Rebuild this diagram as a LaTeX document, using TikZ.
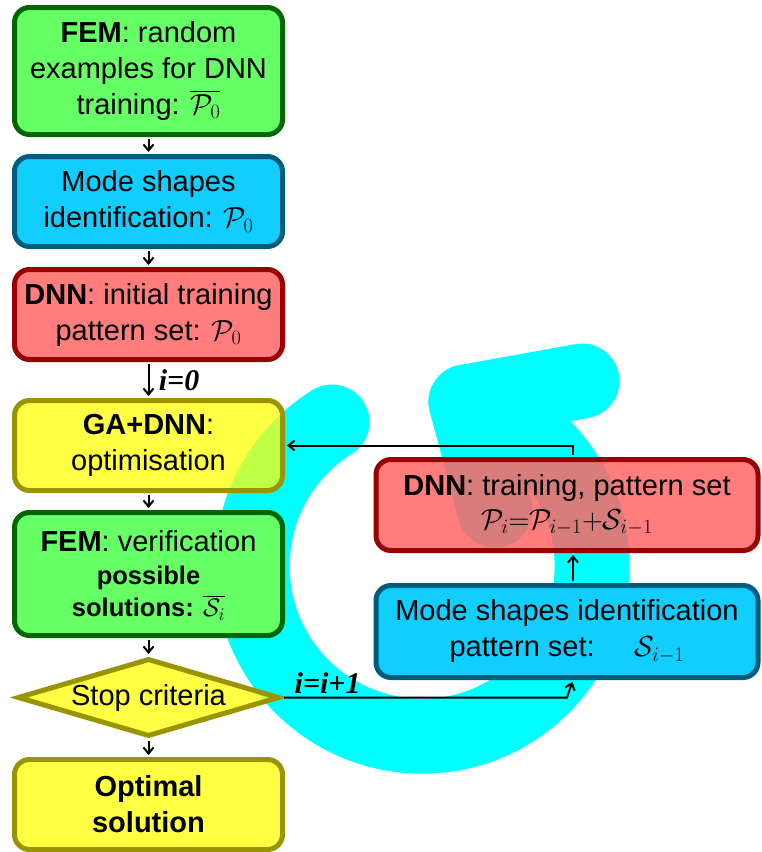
\RequirePackage{fix-cm}
\documentclass[tikz,border=0pt]{standalone}
\usepackage{fontspec}
\setmainfont{Liberation Sans}
\newfontfamily\labfont{Liberation Serif}
\usetikzlibrary{shapes.geometric,arrows.meta}

\definecolor{femgreen}{RGB}{102,255,102}
\definecolor{femline}{RGB}{0,102,0}
\definecolor{modeblue}{RGB}{17,206,255}
\definecolor{modeline}{RGB}{0,92,125}
\definecolor{dnnred}{RGB}{255,125,125}
\definecolor{dnnredt}{RGB}{255,102,102}
\definecolor{dnnline}{RGB}{153,0,0}
\definecolor{gayellow}{RGB}{255,255,68}
\definecolor{gayellowt}{RGB}{255,255,6}
\definecolor{galine}{RGB}{153,148,0}
\definecolor{loopcyan}{RGB}{0,255,255}

\newcommand{\bigtxt}{\fontsize{29}{36}\selectfont}
\newcommand{\smallbold}{\fontsize{25.5}{32}\selectfont\bfseries}

\tikzset{
	box/.style={draw, rounded corners=15pt, line width=5pt, minimum width=268pt,
		minimum height=90pt, align=center, font=\bigtxt, inner sep=2pt, text opacity=1},
	fembox/.style={box, fill=femgreen, draw=femline},
	modebox/.style={box, fill=modeblue, draw=modeline},
	dnnbox/.style={box, fill=dnnred, draw=dnnline},
	gabox/.style={box, fill=gayellow, draw=galine},
	arr/.style={-{Straight Barb[length=6pt,width=10pt]}, line width=2pt, shorten >=2pt, shorten <=2pt},
	loop/.style={loopcyan, line width=75pt, line cap=round, line join=round},
	iterlabel/.style={font=\labfont\fontsize{30}{34}\selectfont\bfseries\itshape}
}

\begin{document}
\begin{tikzpicture}[x=1pt,y=-1pt]
	\useasboundingbox (0,0) rectangle (761,852);
	% big cyan loop arrow in the back
	\draw[loop] (332,422) arc[start angle=-122, end angle=-435, radius=170];
	\draw[loop] (582,381) -- (466,402) -- (495,510);

	% main column
	\node[fembox, minimum height=127pt] (fem0) at (148.5,71)
		{\textbf{FEM}: random\\ examples for DNN\\ training: $\smash{\overline{\mathcal{P}_0\vphantom{\big(}}}$};
	\node[modebox] (modes0) at (148.5,201.5) {Mode shapes\\ identification: $\mathcal{P}_0$};
	\node[dnnbox] (dnn0) at (148.5,314.5) {\textbf{DNN}: initial training\\ pattern set: $\mathcal{P}_0$};
	\node[gabox, fill=gayellowt, fill opacity=0.75] (ga) at (148.5,445.5) {\textbf{GA+DNN}:\\ optimisation};
	\node[fembox, minimum height=123pt] (femv) at (148.5,574)
		{\textbf{FEM}: verification\\[-3pt] {\smallbold possible}\\[-4pt]
		{\smallbold solutions: $\smash{\overline{\mathcal{S}_i\vphantom{\big(}}}$}};
	\node[diamond, aspect=3.3, draw=galine, fill=gayellowt, fill opacity=0.75, text opacity=1, line width=5pt,
		minimum width=262pt, minimum height=78pt, inner sep=0pt, font=\bigtxt] (stop) at (148.5,697.5) {Stop criteria};
	\node[gabox] (best) at (148.5,804.5) {\textbf{Optimal}\\ \textbf{solution}};

	% right loop
	\node[dnnbox, fill=dnnredt, fill opacity=0.85, minimum width=382pt, minimum height=91pt] (dnni) at (567,505)
		{\textbf{DNN}: training, pattern set\\[-2pt] $\mathcal{P}_i{=}\mathcal{P}_{i-1}{+}\mathcal{S}_{i-1}$};
	\node[modebox, minimum width=382pt, minimum height=92pt] (modesi) at (567,631.5)
		{Mode shapes identification\\ pattern set: \quad$\mathcal{S}_{i-1}$};

	% arrows
	\draw[arr] (fem0) -- (modes0);
	\draw[arr] (modes0) -- (dnn0);
	\draw[arr] (dnn0) -- node[right, xshift=6pt, iterlabel] {i=0} (ga);
	\draw[arr] (ga) -- (femv);
	\draw[arr] (femv) -- (stop);
	\draw[arr] (stop) -- (best);
	\draw[arr] (stop.east) -- node[above, pos=0.16, iterlabel] {i=i+1} (stop.east -| modesi.south) -- ([xshift=6pt]modesi.south);
	\draw[arr] ([xshift=6pt]modesi.north) -- ([xshift=6pt]dnni.south);
	\draw[arr] ([xshift=6pt]dnni.north) |- (ga.east);
\end{tikzpicture}
\end{document}
